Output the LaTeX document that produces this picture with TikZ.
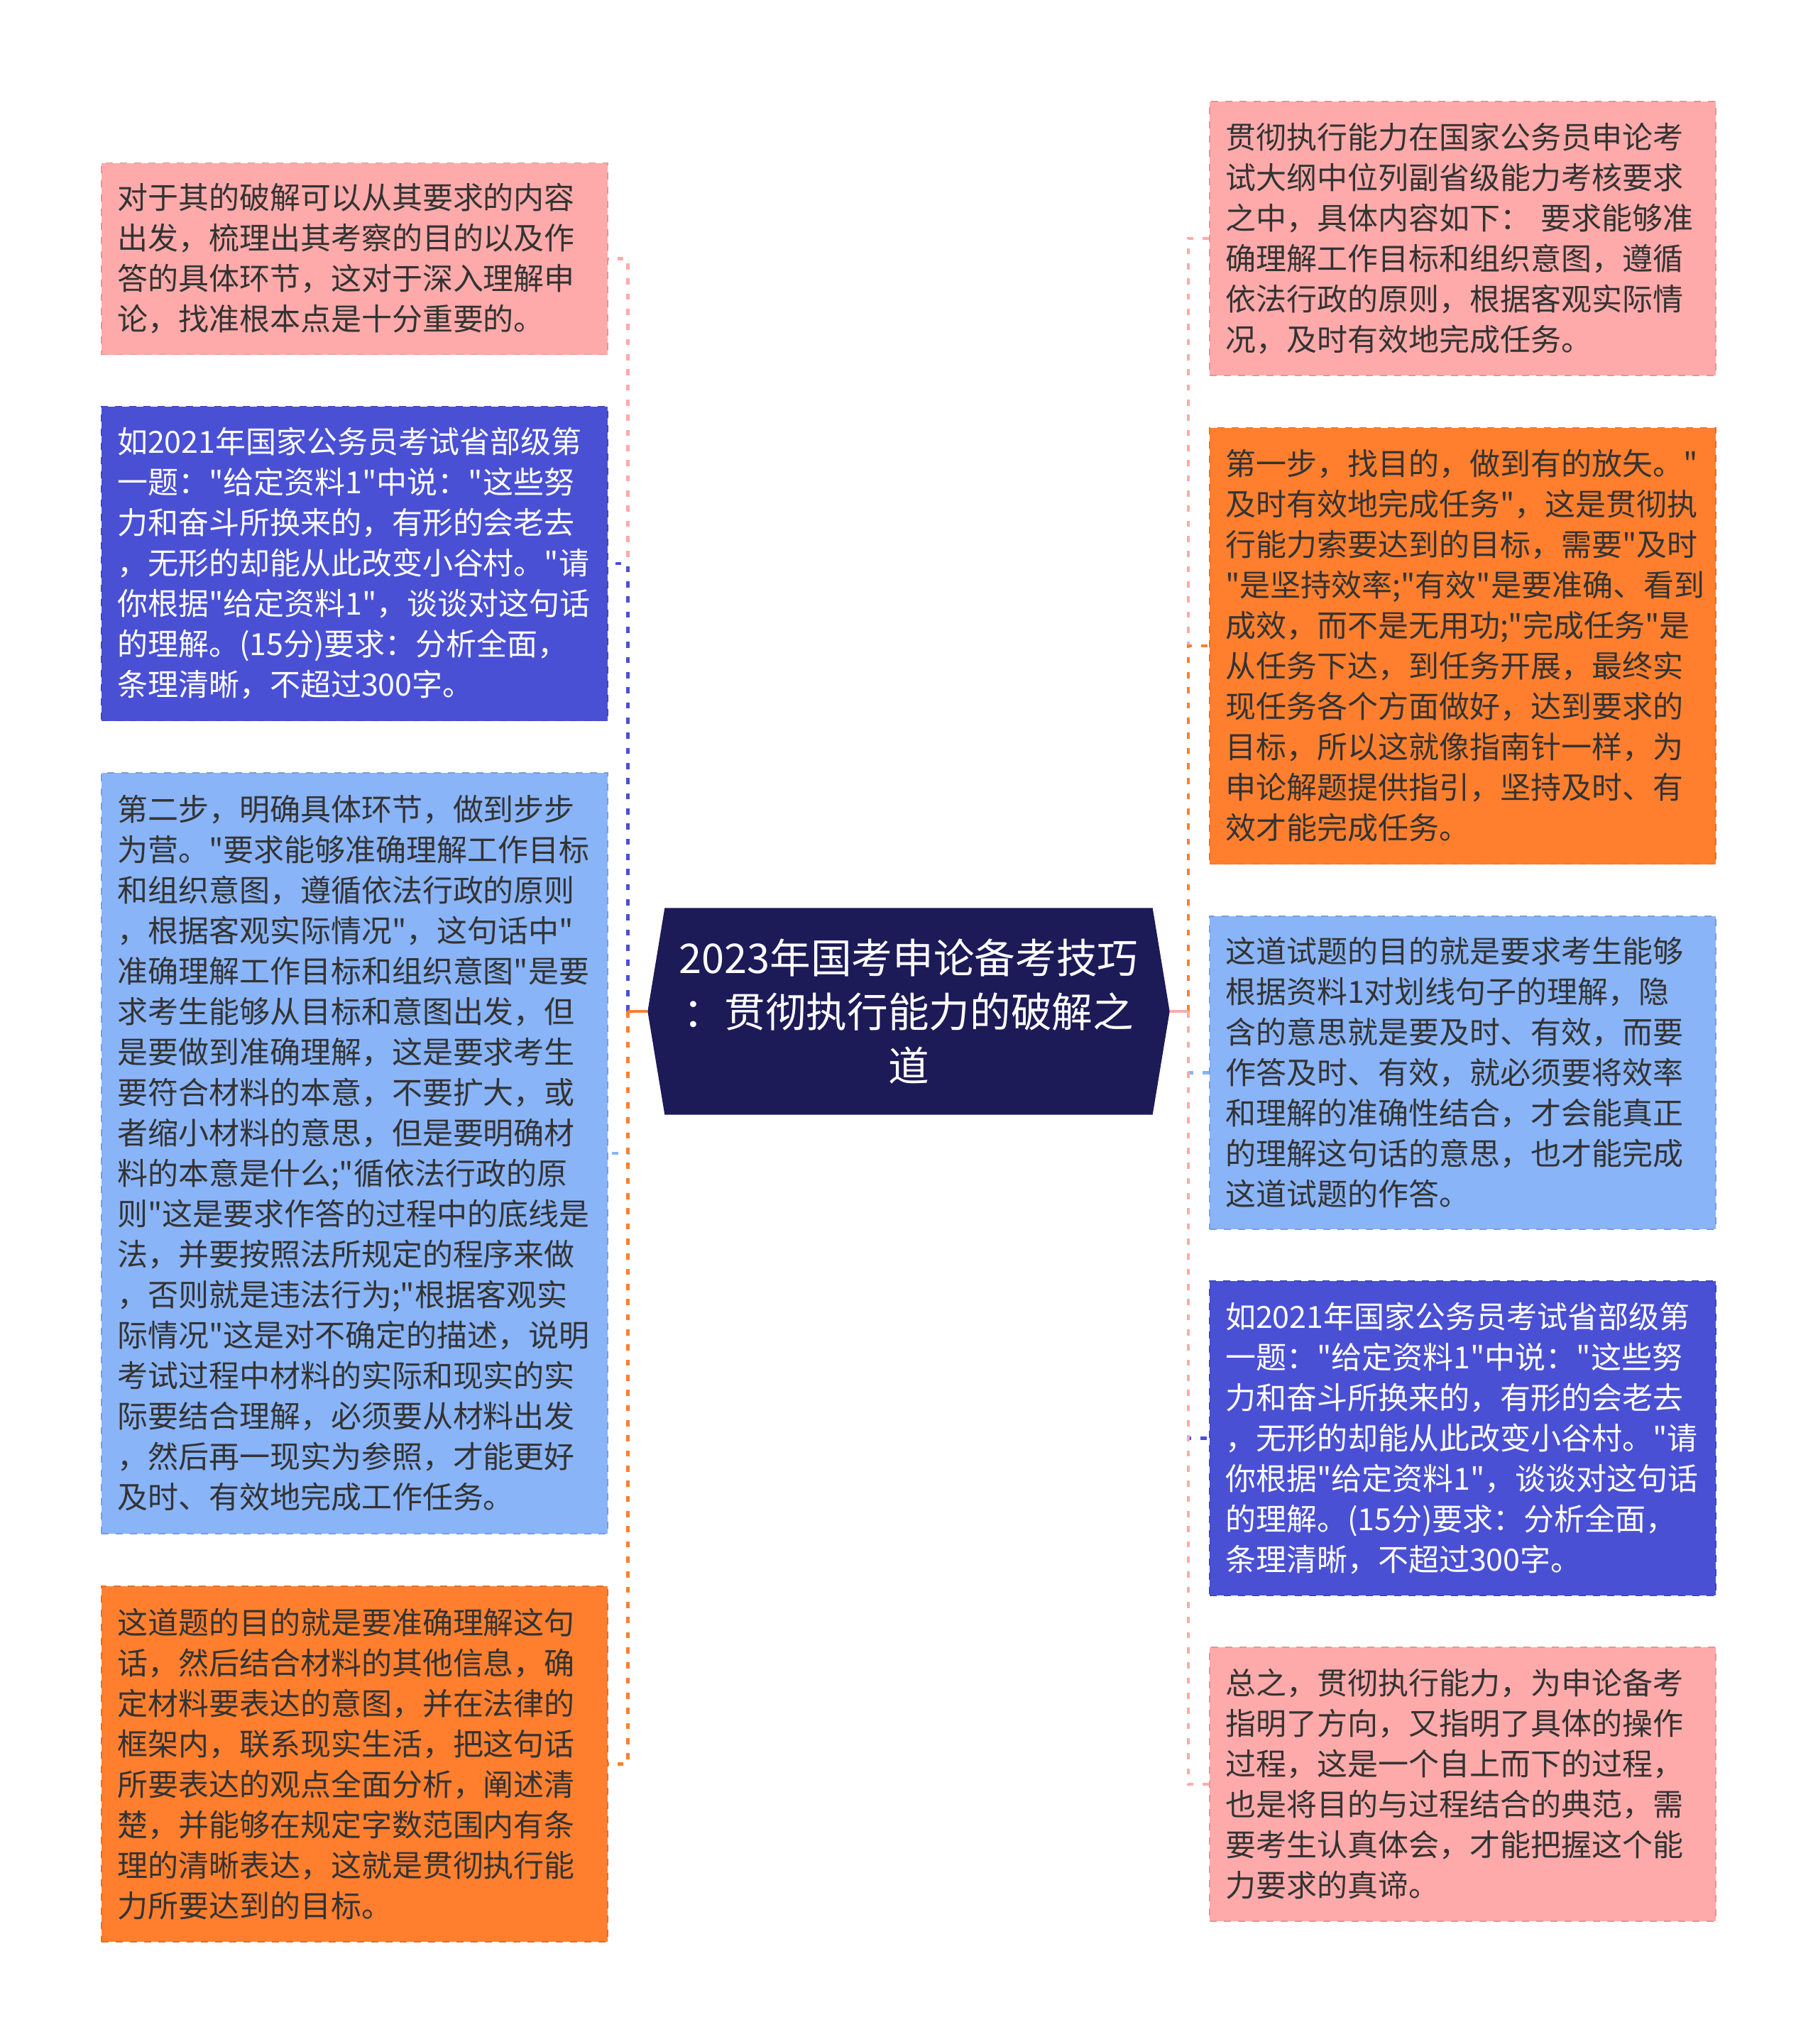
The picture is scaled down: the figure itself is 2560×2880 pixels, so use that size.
\documentclass[tikz,border=0pt]{standalone}
\usepackage{fontspec}
\newfontfamily\cjkfont{Noto Sans CJK SC}
\usetikzlibrary{backgrounds,calc}
\definecolor{rootblue}{HTML}{1D1A58}
\definecolor{pinkbox}{HTML}{FFAAAA}
\definecolor{bluebox}{HTML}{4A50D4}
\definecolor{skybox}{HTML}{8AB4F8}
\definecolor{orangebox}{HTML}{FF7F2F}
\definecolor{darktext}{HTML}{333333}

\begin{document}
\begin{tikzpicture}[x=0.3pt,y=-0.3pt,
  leaf/.style={rectangle, draw=#1!88!black, fill=#1, dashed, line width=0.5pt,
    text=darktext, align=left, text width=200.7pt, minimum width=213.9pt,
    inner xsep=6.6pt, inner ysep=0pt, font=\cjkfont\fontsize{12.9}{17.1}\selectfont},
  rootnode/.style={rectangle, text=white, align=center, inner sep=0pt,
    minimum width=205.8pt, minimum height=87pt, font=\cjkfont\fontsize{17.3}{22.9}\selectfont},
  stub/.style={line width=1.3pt, #1},
  link/.style={line width=1.3pt, dash pattern=on 2.6pt off 3.8pt, #1}]
\useasboundingbox (0,0) rectangle (2560,2880);

\node[rootnode] (root) at (1280,1425) {2023年国考申论备考技巧\\：贯彻执行能力的破解之\\道};
\begin{scope}[on background layer]
\fill[white] (0,0) rectangle (2560,2880);
\fill[rootblue] (root.north west) -- (root.north east) -- ($(root.east)+(24,0)$) -- (root.south east)
  -- (root.south west) -- ($(root.west)+(-24,0)$) -- cycle;
\end{scope}
\coordinate (rootL) at ($(root.west)+(-24,0)$);
\coordinate (rootR) at ($(root.east)+(24,0)$);
\coordinate (jl) at ($(root.west)+(-52,0)$);
\coordinate (jr) at ($(root.east)+(50,0)$);

% left side
\node[leaf=pinkbox, minimum height=81pt] (l1) at (499.5,364.5) {对于其的破解可以从其要求的内容\\出发，梳理出其考察的目的以及作\\答的具体环节，这对于深入理解申\\论，找准根本点是十分重要的。};
\node[leaf=bluebox, text=white, minimum height=132.9pt] (l2) at (499.5,794) {如2021年国家公务员考试省部级第\\一题："给定资料1"中说："这些努\\力和奋斗所换来的，有形的会老去\\，无形的却能从此改变小谷村。"请\\你根据"给定资料1"，谈谈对这句话\\的理解。(15分)要求：分析全面，\\条理清晰，不超过300字。};
\node[leaf=skybox, minimum height=321.6pt] (l3) at (499.5,1625) {第二步，明确具体环节，做到步步\\为营。"要求能够准确理解工作目标\\和组织意图，遵循依法行政的原则\\，根据客观实际情况"，这句话中"\\准确理解工作目标和组织意图"是要\\求考生能够从目标和意图出发，但\\是要做到准确理解，这是要求考生\\要符合材料的本意，不要扩大，或\\者缩小材料的意思，但是要明确材\\料的本意是什么;"循依法行政的原\\则"这是要求作答的过程中的底线是\\法，并要按照法所规定的程序来做\\，否则就是违法行为;"根据客观实\\际情况"这是对不确定的描述，说明\\考试过程中材料的实际和现实的实\\际要结合理解，必须要从材料出发\\，然后再一现实为参照，才能更好\\及时、有效地完成工作任务。};
\node[leaf=orangebox, minimum height=150.3pt] (l4) at (499.5,2485.5) {这道题的目的就是要准确理解这句\\话，然后结合材料的其他信息，确\\定材料要表达的意图，并在法律的\\框架内，联系现实生活，把这句话\\所要表达的观点全面分析，阐述清\\楚，并能够在规定字数范围内有条\\理的清晰表达，这就是贯彻执行能\\力所要达到的目标。};

% right side
\node[leaf=pinkbox, minimum height=115.8pt] (r1) at (2060.5,336) {贯彻执行能力在国家公务员申论考\\试大纲中位列副省级能力考核要求\\之中，具体内容如下： 要求能够准\\确理解工作目标和组织意图，遵循\\依法行政的原则，根据客观实际情\\况，及时有效地完成任务。};
\node[leaf=orangebox, minimum height=184.5pt] (r2) at (2060.5,910) {第一步，找目的，做到有的放矢。"\\及时有效地完成任务"，这是贯彻执\\行能力索要达到的目标，需要"及时\\"是坚持效率;"有效"是要准确、看到\\成效，而不是无用功;"完成任务"是\\从任务下达，到任务开展，最终实\\现任务各个方面做好，达到要求的\\目标，所以这就像指南针一样，为\\申论解题提供指引，坚持及时、有\\效才能完成任务。};
\node[leaf=skybox, minimum height=132.3pt] (r3) at (2060.5,1511.5) {这道试题的目的就是要求考生能够\\根据资料1对划线句子的理解，隐\\含的意思就是要及时、有效，而要\\作答及时、有效，就必须要将效率\\和理解的准确性结合，才会能真正\\的理解这句话的意思，也才能完成\\这道试题的作答。};
\node[leaf=bluebox, text=white, minimum height=132.9pt] (r4) at (2060.5,2026.5) {如2021年国家公务员考试省部级第\\一题："给定资料1"中说："这些努\\力和奋斗所换来的，有形的会老去\\，无形的却能从此改变小谷村。"请\\你根据"给定资料1"，谈谈对这句话\\的理解。(15分)要求：分析全面，\\条理清晰，不超过300字。};
\node[leaf=pinkbox, minimum height=115.8pt] (r5) at (2060.5,2514) {总之，贯彻执行能力，为申论备考\\指明了方向，又指明了具体的操作\\过程，这是一个自上而下的过程，\\也是将目的与过程结合的典范，需\\要考生认真体会，才能把握这个能\\力要求的真谛。};

\draw[stub=pinkbox] (rootL) -- (jl);
\draw[link=pinkbox] (jl) |- (l1.east);
\draw[stub=bluebox] (rootL) -- (jl);
\draw[link=bluebox] (jl) |- (l2.east);
\draw[stub=skybox] (rootL) -- (jl);
\draw[link=skybox] (jl) |- (l3.east);
\draw[stub=orangebox] (rootL) -- (jl);
\draw[link=orangebox] (jl) |- (l4.east);

\draw[stub=pinkbox] (rootR) -- (jr);
\draw[link=pinkbox] (jr) |- (r1.west);
\draw[stub=orangebox] (rootR) -- (jr);
\draw[link=orangebox] (jr) |- (r2.west);
\draw[stub=skybox] (rootR) -- (jr);
\draw[link=skybox] (jr) |- (r3.west);
\draw[stub=bluebox] (rootR) -- (jr);
\draw[link=bluebox] (jr) |- (r4.west);
\draw[stub=pinkbox] (rootR) -- (jr);
\draw[link=pinkbox] (jr) |- (r5.west);
\end{tikzpicture}
\end{document}
